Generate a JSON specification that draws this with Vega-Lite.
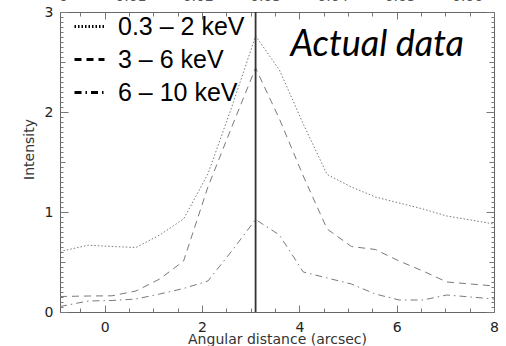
{
  "$schema": "https://vega.github.io/schema/vega-lite/v6.json",
  "width": 434,
  "height": 300,
  "autosize": {"type": "none"},
  "padding": {"left": 60, "top": 12, "right": 12, "bottom": 34},
  "background": "white",
  "config": {
    "view": {"stroke": "#666", "strokeWidth": 1},
    "axis": {
      "domain": false,
      "grid": false,
      "labelFont": "DejaVu Sans",
      "labelFontSize": 14,
      "labelColor": "#222",
      "titleFont": "DejaVu Sans",
      "titleFontSize": 14,
      "titleFontWeight": "normal",
      "titleColor": "#333",
      "tickColor": "#777",
      "tickWidth": 1
    }
  },
  "datasets": {
    "profiles": [
      {"band": "0.3 – 2 keV", "dist": -0.92, "intensity": 0.605},
      {"band": "0.3 – 2 keV", "dist": -0.34, "intensity": 0.668},
      {"band": "0.3 – 2 keV", "dist": 0.15, "intensity": 0.655},
      {"band": "0.3 – 2 keV", "dist": 0.64, "intensity": 0.645},
      {"band": "0.3 – 2 keV", "dist": 1.13, "intensity": 0.77},
      {"band": "0.3 – 2 keV", "dist": 1.62, "intensity": 0.93},
      {"band": "0.3 – 2 keV", "dist": 2.12, "intensity": 1.38},
      {"band": "0.3 – 2 keV", "dist": 2.61, "intensity": 2.05},
      {"band": "0.3 – 2 keV", "dist": 3.1, "intensity": 2.76},
      {"band": "0.3 – 2 keV", "dist": 3.59, "intensity": 2.42},
      {"band": "0.3 – 2 keV", "dist": 4.08, "intensity": 1.88},
      {"band": "0.3 – 2 keV", "dist": 4.57, "intensity": 1.375},
      {"band": "0.3 – 2 keV", "dist": 5.07, "intensity": 1.25},
      {"band": "0.3 – 2 keV", "dist": 5.56, "intensity": 1.15},
      {"band": "0.3 – 2 keV", "dist": 6.05, "intensity": 1.09},
      {"band": "0.3 – 2 keV", "dist": 6.54, "intensity": 1.03},
      {"band": "0.3 – 2 keV", "dist": 7.03, "intensity": 0.96},
      {"band": "0.3 – 2 keV", "dist": 7.52, "intensity": 0.92},
      {"band": "0.3 – 2 keV", "dist": 8.0, "intensity": 0.88},
      {"band": "3 – 6 keV", "dist": -0.92, "intensity": 0.155},
      {"band": "3 – 6 keV", "dist": -0.34, "intensity": 0.16},
      {"band": "3 – 6 keV", "dist": 0.15, "intensity": 0.162},
      {"band": "3 – 6 keV", "dist": 0.64, "intensity": 0.21},
      {"band": "3 – 6 keV", "dist": 1.13, "intensity": 0.33},
      {"band": "3 – 6 keV", "dist": 1.62, "intensity": 0.51},
      {"band": "3 – 6 keV", "dist": 2.12, "intensity": 1.25},
      {"band": "3 – 6 keV", "dist": 2.61, "intensity": 1.85},
      {"band": "3 – 6 keV", "dist": 3.1, "intensity": 2.44},
      {"band": "3 – 6 keV", "dist": 3.59, "intensity": 1.93},
      {"band": "3 – 6 keV", "dist": 4.08, "intensity": 1.36},
      {"band": "3 – 6 keV", "dist": 4.57, "intensity": 0.83},
      {"band": "3 – 6 keV", "dist": 5.07, "intensity": 0.655},
      {"band": "3 – 6 keV", "dist": 5.56, "intensity": 0.625},
      {"band": "3 – 6 keV", "dist": 6.05, "intensity": 0.51},
      {"band": "3 – 6 keV", "dist": 6.54, "intensity": 0.41},
      {"band": "3 – 6 keV", "dist": 7.03, "intensity": 0.3},
      {"band": "3 – 6 keV", "dist": 7.52, "intensity": 0.28},
      {"band": "3 – 6 keV", "dist": 8.0, "intensity": 0.26},
      {"band": "6 – 10 keV", "dist": -0.92, "intensity": 0.055},
      {"band": "6 – 10 keV", "dist": -0.34, "intensity": 0.11},
      {"band": "6 – 10 keV", "dist": 0.15, "intensity": 0.115},
      {"band": "6 – 10 keV", "dist": 0.64, "intensity": 0.13},
      {"band": "6 – 10 keV", "dist": 1.13, "intensity": 0.18},
      {"band": "6 – 10 keV", "dist": 1.62, "intensity": 0.235},
      {"band": "6 – 10 keV", "dist": 2.12, "intensity": 0.31},
      {"band": "6 – 10 keV", "dist": 2.61, "intensity": 0.61},
      {"band": "6 – 10 keV", "dist": 3.1, "intensity": 0.925},
      {"band": "6 – 10 keV", "dist": 3.59, "intensity": 0.77},
      {"band": "6 – 10 keV", "dist": 4.08, "intensity": 0.4},
      {"band": "6 – 10 keV", "dist": 4.57, "intensity": 0.34},
      {"band": "6 – 10 keV", "dist": 5.07, "intensity": 0.28},
      {"band": "6 – 10 keV", "dist": 5.56, "intensity": 0.18},
      {"band": "6 – 10 keV", "dist": 6.05, "intensity": 0.12},
      {"band": "6 – 10 keV", "dist": 6.54, "intensity": 0.12},
      {"band": "6 – 10 keV", "dist": 7.03, "intensity": 0.17},
      {"band": "6 – 10 keV", "dist": 7.52, "intensity": 0.15},
      {"band": "6 – 10 keV", "dist": 8.0, "intensity": 0.13}
    ],
    "marker": [{"dist": 3.1}],
    "note": [{"label": "Actual data", "dist": 5.6, "intensity": 2.675}],
    "dummy": [{"v": 0}]
  },
  "layer": [
    {
      "data": {"name": "profiles"},
      "mark": {"type": "line", "color": "#7a7a7a", "strokeWidth": 1},
      "encoding": {
        "x": {
          "field": "dist", "type": "quantitative",
          "scale": {"domain": [-0.92, 8], "nice": false, "zero": false},
          "axis": {
            "orient": "bottom",
            "values": [0, 2, 4, 6, 8],
            "format": "d",
            "ticks": false,
            "labelFlush": false,
            "labelPadding": 8,
            "title": "Angular distance (arcsec)",
            "titlePadding": -2
          }
        },
        "y": {
          "field": "intensity", "type": "quantitative",
          "scale": {"domain": [0, 3], "nice": false},
          "axis": {
            "orient": "left",
            "values": [0, 1, 2, 3],
            "format": "d",
            "ticks": false,
            "labelFlush": false,
            "labelPadding": 7,
            "title": "Intensity",
            "titlePadding": 8,
            "titleY": 137
          }
        },
        "strokeDash": {
          "field": "band", "type": "nominal",
          "scale": {"domain": ["0.3 – 2 keV", "3 – 6 keV", "6 – 10 keV"], "range": [[1.5, 2], [7, 5], [7, 4, 1.5, 4]]},
          "legend": {
            "orient": "none",
            "legendX": 13,
            "legendY": -2,
            "padding": 0,
            "title": null,
            "symbolType": "stroke",
            "symbolStrokeWidth": 3,
            "symbolStrokeColor": "black",
            "symbolSize": 900,
            "labelFont": "Liberation Sans",
            "labelFontSize": 25,
            "labelColor": "black",
            "labelOffset": 12,
            "labelLimit": 300,
            "rowPadding": 3
          }
        }
      }
    },
    {
      "data": {"name": "marker"},
      "mark": {"type": "rule", "color": "#333", "strokeWidth": 1.8},
      "encoding": {
        "x": {
          "field": "dist", "type": "quantitative",
          "scale": {"domain": [-0.92, 8], "nice": false, "zero": false},
          "axis": {"orient": "top", "offset": -300, "values": [0, 2, 4, 6, 8], "labels": false, "tickSize": 7, "title": null}
        }
      }
    },
    {
      "data": {"name": "note"},
      "mark": {"type": "text", "font": "Lato", "fontStyle": "italic", "fontSize": 36, "color": "black", "align": "center", "baseline": "middle"},
      "encoding": {
        "x": {
          "field": "dist", "type": "quantitative",
          "scale": {"domain": [-0.92, 8], "nice": false, "zero": false},
          "axis": {"orient": "top", "offset": -300, "values": [-0.5, 0.5, 1, 1.5, 2.5, 3, 3.5, 4.5, 5, 5.5, 6.5, 7, 7.5], "labels": false, "tickSize": 4, "title": null}
        },
        "y": {
          "field": "intensity", "type": "quantitative",
          "scale": {"domain": [0, 3], "nice": false},
          "axis": {"orient": "right", "offset": -434, "values": [0, 1, 2, 3], "labels": false, "tickSize": 8, "title": null}
        },
        "text": {"field": "label"}
      }
    },
    {
      "data": {"name": "dummy"},
      "mark": {"type": "point", "opacity": 0},
      "encoding": {
        "x": {
          "field": "v", "type": "quantitative",
          "scale": {"domain": [-0.92, 8], "nice": false, "zero": false},
          "axis": {"orient": "bottom", "offset": -300, "values": [0, 2, 4, 6, 8], "labels": false, "tickSize": 7, "title": null}
        },
        "y": {
          "field": "v", "type": "quantitative",
          "scale": {"domain": [0, 3], "nice": false},
          "axis": {"orient": "right", "offset": -434, "values": [0.5, 1.5, 2.5], "labels": false, "tickSize": 5, "title": null}
        }
      }
    },
    {
      "data": {"name": "dummy"},
      "mark": {"type": "point", "opacity": 0},
      "encoding": {
        "x": {
          "field": "v", "type": "quantitative",
          "scale": {"domain": [-0.92, 8], "nice": false, "zero": false},
          "axis": {"orient": "bottom", "offset": -300, "values": [-0.5, 0.5, 1, 1.5, 2.5, 3, 3.5, 4.5, 5, 5.5, 6.5, 7, 7.5], "labels": false, "tickSize": 4, "title": null}
        },
        "y": {
          "field": "v", "type": "quantitative",
          "scale": {"domain": [0, 3], "nice": false},
          "axis": {"orient": "right", "offset": -434, "values": [0.05, 0.1, 0.15, 0.2, 0.25, 0.3, 0.35, 0.4, 0.45, 0.55, 0.6, 0.65, 0.7, 0.75, 0.8, 0.85, 0.9, 0.95, 1.05, 1.1, 1.15, 1.2, 1.25, 1.3, 1.35, 1.4, 1.45, 1.55, 1.6, 1.65, 1.7, 1.75, 1.8, 1.85, 1.9, 1.95, 2.05, 2.1, 2.15, 2.2, 2.25, 2.3, 2.35, 2.4, 2.45, 2.55, 2.6, 2.65, 2.7, 2.75, 2.8, 2.85, 2.9, 2.95], "labels": false, "tickSize": 3, "title": null}
        }
      }
    },
    {
      "data": {"name": "dummy"},
      "mark": {"type": "point", "opacity": 0},
      "encoding": {
        "x": {
          "field": "v", "type": "quantitative",
          "scale": {"domain": [-0.00045, 0.064], "nice": false, "zero": false},
          "axis": {"orient": "top", "values": [0, 0.01, 0.02, 0.03, 0.04, 0.05, 0.06], "format": ".2~f", "ticks": false, "labelPadding": 9, "labelColor": "#555", "labelFlush": false, "labelOverlap": false, "title": null}
        },
        "y": {
          "field": "v", "type": "quantitative",
          "scale": {"domain": [0, 3], "nice": false},
          "axis": {"orient": "left", "offset": -434, "values": [0, 1, 2, 3], "labels": false, "tickSize": 8, "title": null}
        }
      }
    },
    {
      "data": {"name": "dummy"},
      "mark": {"type": "point", "opacity": 0},
      "encoding": {
        "y": {
          "field": "v", "type": "quantitative",
          "scale": {"domain": [0, 3], "nice": false},
          "axis": {"orient": "left", "offset": -434, "values": [0.5, 1.5, 2.5], "labels": false, "tickSize": 5, "title": null}
        }
      }
    },
    {
      "data": {"name": "dummy"},
      "mark": {"type": "point", "opacity": 0},
      "encoding": {
        "y": {
          "field": "v", "type": "quantitative",
          "scale": {"domain": [0, 3], "nice": false},
          "axis": {"orient": "left", "offset": -434, "values": [0.05, 0.1, 0.15, 0.2, 0.25, 0.3, 0.35, 0.4, 0.45, 0.55, 0.6, 0.65, 0.7, 0.75, 0.8, 0.85, 0.9, 0.95, 1.05, 1.1, 1.15, 1.2, 1.25, 1.3, 1.35, 1.4, 1.45, 1.55, 1.6, 1.65, 1.7, 1.75, 1.8, 1.85, 1.9, 1.95, 2.05, 2.1, 2.15, 2.2, 2.25, 2.3, 2.35, 2.4, 2.45, 2.55, 2.6, 2.65, 2.7, 2.75, 2.8, 2.85, 2.9, 2.95], "labels": false, "tickSize": 3, "title": null}
        }
      }
    }
  ],
  "resolve": {
    "scale": {"x": "independent", "y": "independent"},
    "axis": {"x": "independent", "y": "independent"}
  }
}
